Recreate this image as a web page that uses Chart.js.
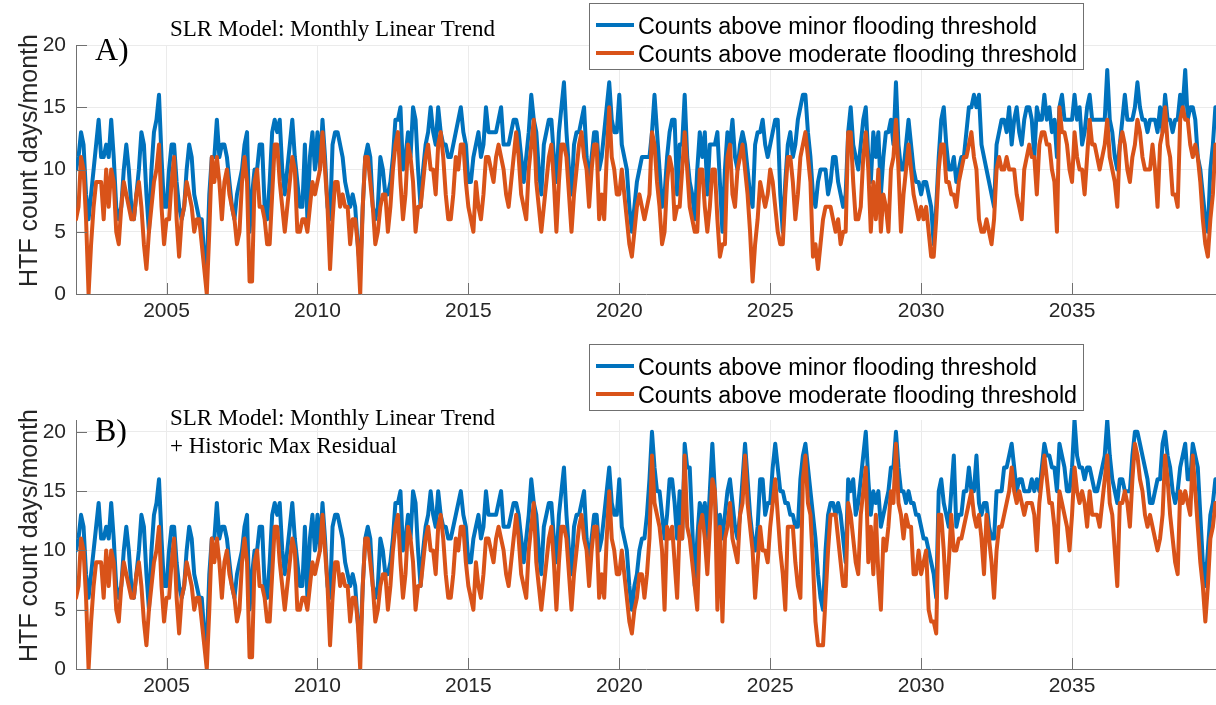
<!DOCTYPE html>
<html>
<head>
<meta charset="utf-8">
<title>HTF counts - SLR model</title>
<script src="https://cdn.jsdelivr.net/npm/chart.js@4.4.1/dist/chart.umd.min.js"></script>
<style>
  html, body { margin: 0; padding: 0; background: #fff; overflow: hidden; }
  #wrap { position: relative; width: 1216px; height: 705px; }
  canvas { position: absolute; left: 0; }
  #panelA { top: 0; }
  #panelB { top: 340px; }
</style>
</head>
<body>
<div id="wrap">
  <canvas id="panelA" width="1216" height="340"></canvas>
  <canvas id="panelB" width="1216" height="365"></canvas>
</div>
<script>
// Monthly HTF counts (days/month), first value = Jan 2002
const startYear = 2002;
const yearTicks = [2005, 2010, 2015, 2020, 2025, 2030, 2035];
const countTicks = [0, 5, 10, 15, 20];
const seriesLabels = ['Counts above minor flooding threshold', 'Counts above moderate flooding threshold'];

// Jan 2002 - Jul 2020: both model runs give the same counts
const minorHistoric = [
    10, 11, 13, 12, 8, 6, 8, 10, 12, 14, 11, 11,
    12, 11, 14, 11, 7, 6, 7, 10, 12, 10, 7, 6,
    8, 10, 13, 12, 8, 5, 10, 13, 14, 16, 11, 7,
    7, 10, 12, 12, 9, 7, 6, 7, 10, 12, 11, 8,
    7, 6, 6, 3, 2, 8, 11, 11, 14, 11, 12, 12,
    11, 9, 7, 6, 8, 9, 10, 12, 13, 5, 8, 10,
    10, 12, 12, 7, 6, 9, 13, 14, 13, 14, 10, 8,
    10, 12, 14, 11, 9, 7, 7, 12, 6, 11, 13, 10,
    13, 10, 14, 11, 7, 6, 12, 13, 13, 12, 11, 9,
    8, 7, 8, 7, 4, 2, 7, 11, 12, 11, 7, 6,
    7, 11, 10, 8, 8, 9, 11, 14, 14, 15, 10, 11,
    13, 11, 15, 14, 10, 7, 10, 12, 13, 15, 13, 12,
    15, 13, 12, 12, 11, 11, 12, 13, 14, 15, 13, 12,
    9, 9, 11, 12, 13, 11, 12, 15, 13, 13, 13, 13,
    14, 15, 12, 12, 12, 13, 14, 14, 13, 11, 9, 11,
    13, 16, 14, 13, 10, 8, 12, 13, 14, 14, 11, 9,
    13, 15, 17, 13, 10, 8, 12, 13, 13, 14, 15, 11,
    9, 11, 13, 13, 10, 11, 13, 15, 17, 14, 13, 13,
    16, 12, 11, 10, 7, 5, 7
];
const moderateHistoric = [
    6, 7, 11, 10, 6, 0, 4, 7, 9, 9, 9, 6,
    10, 7, 10, 9, 5, 4, 7, 9, 8, 7, 6, 6,
    8, 9, 7, 4, 2, 5, 7, 9, 10, 12, 7, 4,
    6, 6, 9, 11, 6, 3, 6, 7, 9, 8, 7, 5,
    6, 6, 4, 2, 0, 5, 11, 9, 11, 9, 6, 9,
    10, 8, 7, 6, 4, 5, 9, 11, 9, 1, 1, 9,
    10, 7, 7, 6, 4, 4, 8, 12, 12, 9, 7, 5,
    7, 9, 11, 10, 5, 5, 6, 6, 5, 7, 9, 8,
    9, 10, 13, 10, 7, 2, 6, 9, 9, 7, 8, 7,
    7, 4, 6, 6, 4, 0, 7, 11, 11, 9, 7, 4,
    5, 7, 8, 8, 5, 7, 10, 12, 13, 9, 6, 8,
    12, 11, 9, 5, 7, 7, 9, 11, 12, 10, 10, 8,
    12, 13, 11, 8, 6, 6, 8, 11, 10, 12, 12, 9,
    7, 6, 5, 9, 7, 6, 8, 11, 11, 10, 9, 11,
    12, 11, 10, 8, 7, 9, 11, 13, 11, 8, 7, 6,
    10, 12, 14, 9, 7, 5, 7, 9, 11, 12, 9, 5,
    9, 12, 12, 11, 8, 5, 8, 10, 12, 13, 11, 10,
    7, 10, 12, 12, 6, 8, 6, 11, 15, 11, 10, 8,
    8, 10, 8, 6, 4, 3, 5
];

// Aug 2020 - Oct 2039, monthly linear trend
const minorTrend = [
    9, 10, 11, 11, 11,
    11, 13, 16, 13, 10, 7, 8, 11, 13, 14, 14, 8,
    12, 12, 16, 11, 9, 8, 6, 10, 13, 11, 13, 8,
    12, 12, 12, 13, 9, 5, 10, 13, 12, 14, 11, 10,
    12, 13, 12, 10, 8, 7, 12, 13, 13, 14, 12, 11,
    12, 13, 14, 14, 8, 5, 9, 12, 13, 11, 12, 14,
    15, 16, 16, 13, 11, 8, 7, 9, 10, 10, 10, 8,
    9, 11, 11, 9, 8, 7, 8, 13, 15, 12, 11, 10,
    12, 14, 15, 11, 9, 13, 11, 13, 8, 11, 13, 13,
    14, 12, 17, 12, 10, 10, 12, 14, 12, 10, 9, 9,
    8, 9, 9, 8, 7, 4, 7, 11, 14, 15, 12, 10,
    10, 11, 9, 10, 11, 11, 13, 15, 15, 16, 15, 16,
    12, 11, 10, 9, 8, 7, 12, 13, 14, 14, 13, 15,
    12, 14, 15, 13, 12, 14, 15, 15, 14, 11, 15, 14,
    14, 16, 14, 15, 13, 14, 11, 15, 16, 14, 14, 14,
    14, 16, 14, 15, 12, 13, 15, 16, 14, 14, 14, 14,
    14, 14, 18, 14, 13, 11, 10, 12, 14, 16, 14, 14,
    14, 15, 17, 15, 14, 14, 13, 14, 14, 14, 13, 15,
    13, 16, 14, 14, 13, 14, 14, 16, 15, 18, 14, 15,
    15, 14, 11, 10, 8, 6, 5, 10, 12, 15
];
const moderateTrend = [
    7, 8, 7, 6, 7,
    8, 13, 12, 9, 7, 4, 5, 9, 11, 10, 6, 7,
    7, 10, 13, 10, 7, 6, 5, 5, 10, 10, 7, 5,
    7, 10, 10, 6, 3, 4, 4, 11, 12, 8, 7, 10,
    11, 12, 10, 8, 5, 1, 4, 6, 9, 8, 7, 8,
    10, 9, 7, 5, 4, 4, 8, 11, 11, 9, 6, 8,
    11, 12, 13, 11, 9, 3, 4, 2, 4, 6, 7, 7,
    7, 6, 5, 6, 4, 5, 5, 13, 13, 9, 6, 6,
    7, 11, 13, 10, 5, 9, 6, 10, 5, 8, 7, 5,
    10, 11, 14, 10, 5, 8, 10, 12, 10, 8, 7, 6,
    7, 6, 7, 5, 3, 3, 6, 10, 12, 12, 9, 9,
    8, 8, 7, 9, 10, 11, 11, 12, 13, 11, 10, 6,
    5, 5, 6, 5, 4, 6, 10, 11, 10, 10, 11, 10,
    10, 10, 8, 7, 6, 10, 11, 12, 11, 11, 8, 12,
    13, 13, 12, 12, 10, 9, 5, 15, 13, 13, 12, 10,
    9, 13, 11, 10, 10, 8, 11, 14, 12, 12, 11, 10,
    11, 12, 14, 11, 10, 9, 7, 12, 13, 12, 10, 9,
    11, 12, 14, 13, 11, 10, 10, 10, 12, 10, 7, 12,
    13, 15, 12, 11, 8, 8, 7, 14, 15, 14, 14, 12,
    11, 12, 11, 9, 6, 4, 3, 6, 8, 12
];

// Aug 2020 - Oct 2039, linear trend + historic max residual
const minorResidual = [
    8, 10, 11, 11, 13,
    16, 20, 17, 15, 15, 13, 11, 13, 16, 16, 14, 11,
    15, 11, 19, 17, 17, 12, 7, 11, 14, 13, 14, 11,
    15, 19, 15, 11, 13, 11, 13, 15, 16, 14, 12, 11,
    13, 16, 19, 16, 13, 11, 10, 12, 16, 16, 13, 14,
    14, 17, 19, 17, 15, 15, 14, 14, 13, 13, 12, 12,
    16, 18, 19, 17, 15, 13, 11, 8, 6, 5, 10, 13,
    14, 14, 13, 14, 13, 11, 9, 16, 15, 16, 13, 14,
    16, 18, 20, 16, 13, 15, 14, 15, 12, 13, 14, 15,
    17, 17, 20, 17, 15, 15, 14, 15, 14, 14, 13, 13,
    12, 11, 11, 10, 9, 8, 6, 15, 16, 14, 13, 12,
    15, 18, 12, 13, 13, 15, 15, 17, 15, 15, 18, 14,
    13, 14, 14, 12, 11, 11, 15, 15, 15, 17, 17, 18,
    19, 17, 15, 16, 16, 15, 15, 15, 16, 15, 16, 15,
    17, 19, 18, 18, 17, 17, 15, 19, 18, 17, 15, 15,
    17, 21, 18, 17, 17, 16, 17, 17, 16, 15, 15, 16,
    17, 18, 21, 18, 16, 15, 14, 16, 16, 15, 15, 15,
    18, 20, 20, 19, 18, 17, 16, 14, 14, 15, 16, 16,
    19, 20, 18, 17, 15, 14, 15, 17, 18, 19, 16, 16,
    19, 18, 17, 13, 9, 7, 10, 13, 14, 16
];
const moderateResidual = [
    6, 8, 8, 6, 8,
    11, 18, 14, 13, 12, 10, 5, 12, 11, 12, 9, 6,
    12, 11, 18, 12, 11, 9, 7, 5, 12, 13, 11, 8,
    12, 16, 15, 5, 12, 4, 11, 12, 14, 11, 10, 9,
    13, 14, 18, 14, 12, 10, 6, 9, 12, 10, 10, 9,
    12, 14, 16, 13, 10, 8, 5, 12, 12, 12, 9, 7,
    6, 16, 18, 14, 13, 9, 4, 2, 2, 2, 6, 10,
    13, 13, 13, 11, 9, 7, 7, 14, 13, 11, 9, 8,
    13, 15, 17, 9, 12, 8, 13, 8, 5, 11, 10, 12,
    15, 14, 19, 14, 13, 11, 13, 12, 12, 8, 8, 10,
    8, 9, 10, 5, 4, 4, 3, 13, 13, 10, 6, 9,
    13, 10, 10, 11, 11, 12, 13, 14, 15, 13, 12, 13,
    11, 8, 13, 11, 9, 6, 10, 12, 12, 13, 14, 15,
    17, 15, 14, 15, 14, 13, 14, 14, 14, 13, 10, 14,
    16, 18, 16, 14, 14, 12, 9, 15, 14, 13, 12, 10,
    13, 17, 15, 14, 15, 14, 12, 15, 13, 13, 13, 12,
    14, 16, 18, 14, 13, 10, 7, 14, 14, 15, 14, 12,
    16, 19, 18, 16, 15, 13, 12, 13, 12, 11, 10, 11,
    13, 18, 16, 13, 11, 9, 8, 15, 14, 15, 14, 13,
    18, 15, 12, 9, 7, 4, 7, 11, 12, 14
];

const BLUE = '#0072BD';
const ORANGE = '#D95319';
const AXIS = '#707070';
const GRID = '#ebebeb';
const INK = '#262626';
const SANS = '"Liberation Sans", Arial, Helvetica, sans-serif';
const SERIF = '"Liberation Serif", "Times New Roman", Times, serif';

// month index -> decimal year
function toPoints(values) {
    return values.map((v, i) => ({ x: startYear + i / 12, y: v }));
}

// Inward ticks, y label, panel text and legend box drawn on top of the plot
function panelDecor(cfg) {
    return {
        id: 'panelDecor',
        afterDraw(chart) {
            const { ctx, chartArea, scales } = chart;
            ctx.save();

            ctx.strokeStyle = AXIS;
            ctx.lineWidth = 1;
            ctx.beginPath();
            yearTicks.forEach(t => {
                const px = Math.round(scales.x.getPixelForValue(t)) + 0.5;
                ctx.moveTo(px, chartArea.bottom);
                ctx.lineTo(px, chartArea.bottom - 11);
            });
            countTicks.forEach(t => {
                const py = Math.round(scales.y.getPixelForValue(t)) + 0.5;
                ctx.moveTo(chartArea.left, py);
                ctx.lineTo(chartArea.left + 11, py);
            });
            ctx.stroke();

            // y axis label
            ctx.save();
            ctx.translate(30, (chartArea.top + chartArea.bottom) / 2 - 9);
            ctx.rotate(-Math.PI / 2);
            ctx.fillStyle = INK;
            ctx.font = '25px ' + SANS;
            ctx.textAlign = 'center';
            ctx.textBaseline = 'middle';
            ctx.fillText('HTF count days/month', 0, 0);
            ctx.restore();

            // model description
            ctx.fillStyle = '#000';
            ctx.textAlign = 'left';
            ctx.textBaseline = 'alphabetic';
            ctx.font = '23px ' + SERIF;
            cfg.notes.forEach((line, k) => ctx.fillText(line, 170, cfg.noteY[k]));
            ctx.font = '32px ' + SERIF;
            ctx.fillText(cfg.letter, 95, cfg.letterY);

            // legend
            const lg = cfg.legend;
            ctx.fillStyle = '#fff';
            ctx.fillRect(lg.left, lg.top, lg.width, lg.height);
            ctx.strokeStyle = AXIS;
            ctx.lineWidth = 1;
            ctx.strokeRect(lg.left + 0.5, lg.top + 0.5, lg.width, lg.height);
            [BLUE, ORANGE].forEach((color, k) => {
                const ly = lg.top + lg.rowY[k];
                ctx.strokeStyle = color;
                ctx.lineWidth = 4;
                ctx.beginPath();
                ctx.moveTo(lg.left + 7, ly);
                ctx.lineTo(lg.left + 45, ly);
                ctx.stroke();
                ctx.fillStyle = '#000';
                ctx.font = '23.3px ' + SANS;
                ctx.fillText(seriesLabels[k], lg.left + 49, ly + 9);
            });

            ctx.restore();
        }
    };
}

function makePanel(canvasId, minor, moderate, yMax, padTop, xHeight, cfg) {
    const canvas = document.getElementById(canvasId);
    return new Chart(canvas, {
        type: 'line',
        data: {
            datasets: [
                { label: seriesLabels[0], data: toPoints(minor), borderColor: BLUE, order: 2 },
                { label: seriesLabels[1], data: toPoints(moderate), borderColor: ORANGE, order: 1 }
            ]
        },
        plugins: [panelDecor(cfg)],
        options: {
            responsive: false,
            animation: false,
            devicePixelRatio: 1,
            layout: { padding: { top: padTop, left: 0, right: 0, bottom: 0 } },
            elements: {
                line: { borderWidth: 4, tension: 0, borderJoinStyle: 'round', borderCapStyle: 'round', fill: false },
                point: { radius: 0, hoverRadius: 0 }
            },
            plugins: {
                legend: { display: false },
                tooltip: { enabled: false }
            },
            scales: {
                x: {
                    type: 'linear',
                    min: startYear,
                    max: 2039.77,
                    afterBuildTicks: s => { s.ticks = yearTicks.map(v => ({ value: v })); },
                    afterFit: s => { s.height = xHeight; },
                    grid: { color: GRID, drawTicks: false },
                    border: { color: AXIS },
                    ticks: {
                        color: INK,
                        padding: 5,
                        maxRotation: 0,
                        autoSkip: false,
                        font: { family: SANS, size: 21 },
                        callback: v => String(v)
                    }
                },
                y: {
                    min: 0,
                    max: yMax,
                    afterBuildTicks: s => { s.ticks = countTicks.map(v => ({ value: v })); },
                    afterFit: s => { s.width = 76; },
                    grid: { color: GRID, drawTicks: false },
                    border: { color: AXIS },
                    ticks: {
                        color: INK,
                        padding: 10,
                        font: { family: SANS, size: 21 },
                        callback: v => String(v)
                    }
                }
            }
        }
    });
}

document.addEventListener('DOMContentLoaded', () => {
    makePanel('panelA',
        minorHistoric.concat(minorTrend),
        moderateHistoric.concat(moderateTrend),
        20, 45, 46,
        {
            notes: ['SLR Model: Monthly Linear Trend'],
            noteY: [36],
            letter: 'A)',
            letterY: 60,
            legend: { left: 589, top: 3, width: 494, height: 66, rowY: [22, 50] }
        });

    makePanel('panelB',
        minorHistoric.concat(minorResidual),
        moderateHistoric.concat(moderateResidual),
        21, 80, 36,
        {
            notes: ['SLR Model: Monthly Linear Trend', '+ Historic Max Residual'],
            noteY: [85, 113],
            letter: 'B)',
            letterY: 101,
            legend: { left: 589, top: 4, width: 494, height: 66, rowY: [22, 50] }
        });
});
</script>
</body>
</html>
